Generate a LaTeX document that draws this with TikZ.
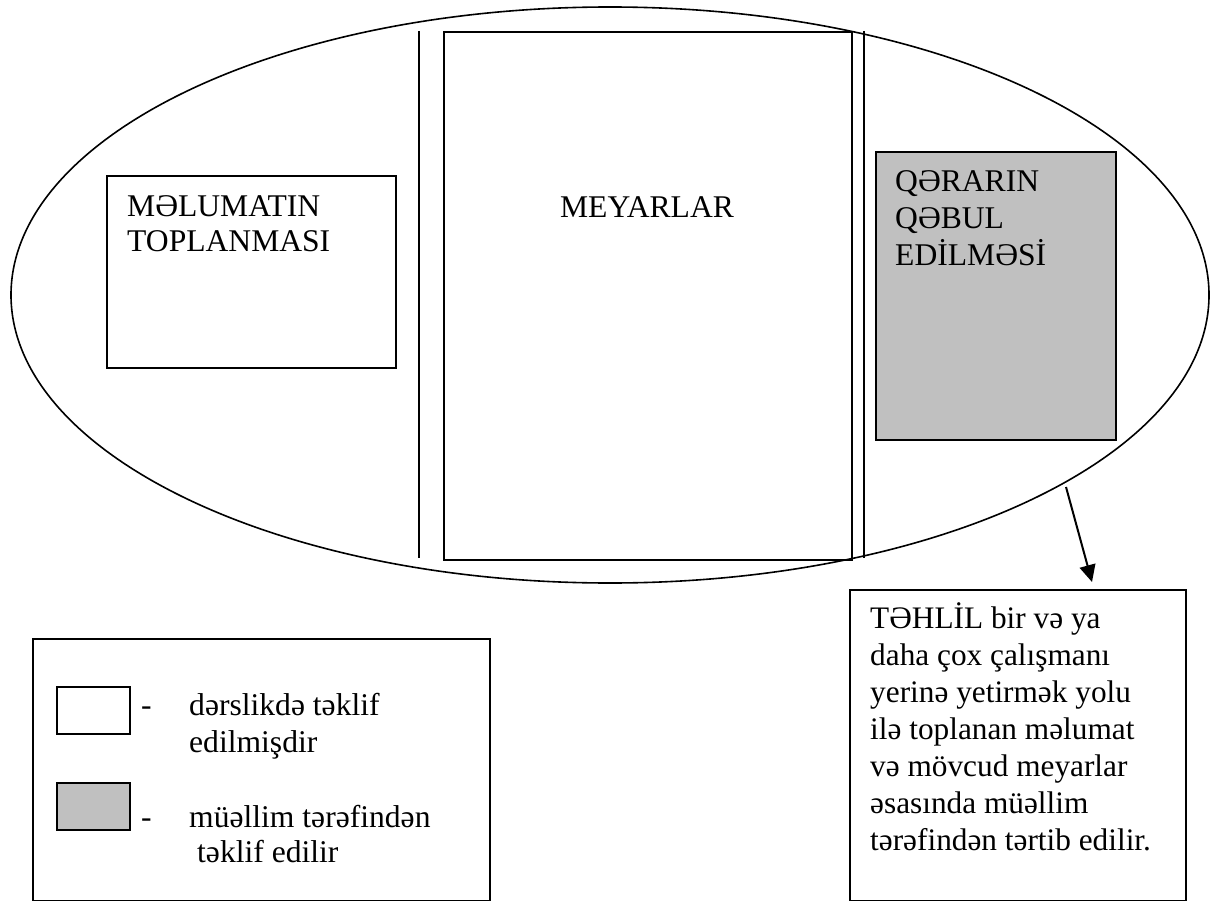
\documentclass[tikz,border=0pt]{standalone}
\usepackage{fontspec}
\setmainfont{Liberation Serif}
\usetikzlibrary{arrows.meta}
\definecolor{boxgray}{HTML}{C0C0C0}
% multi-line text whose baseline is the first line
\newcommand{\stack}[1]{\begin{tabular}[t]{@{}l@{}}#1\end{tabular}}
\begin{document}
\begin{tikzpicture}[x=1pt,y=-1pt,
  frame/.style={draw, line width=2pt, inner sep=0pt, anchor=north west},
  txt/.style={inner sep=0pt, anchor=base west, font=\fontsize{31.6}{36.5}\selectfont},
  rule/.style={line width=2pt}]
\useasboundingbox (0,0) rectangle (1214,901);

% outer ellipse
\draw[line width=1.6pt] (610,295) ellipse [x radius=599, y radius=288];

% data collection box
\node (info) [frame, minimum width=289pt, minimum height=192pt] at (106,175) {};
\node (infotxt) [txt, font=\fontsize{31.6}{35}\selectfont] at (127,217) {\stack{MƏLUMATIN\\TOPLANMASI}};

% criteria column with side rules
\coordinate (lt) at (419,31);
\coordinate (lb) at (419,558);
\coordinate (rt) at (864,31);
\coordinate (rb) at (864,558);
\draw[rule] (lt) -- (lb);
\draw[rule] (rt) -- (rb);
\node (crit) [frame, minimum width=408pt, minimum height=528pt] at (443,31) {};
\node (crittxt) [txt, anchor=base] at (647,218) {MEYARLAR};

% decision box
\node (dec) [frame, fill=boxgray, minimum width=240pt, minimum height=288pt] at (875,151) {};
\node (dectxt) [txt] at (895,192) {\stack{QƏRARIN\\QƏBUL\\EDİLMƏSİ}};

% analysis box and arrow
\node (anl) [frame, minimum width=336pt, minimum height=311pt] at (849,589) {};
\node (anltxt) [txt, font=\fontsize{31.3}{37}\selectfont] at (870,628)
  {\stack{TƏHLİL bir və ya\\daha çox çalışmanı\\yerinə yetirmək yolu\\ilə toplanan məlumat\\və mövcud meyarlar\\əsasında müəllim\\tərəfindən tərtib edilir.}};
\coordinate (arrfrom) at (1066,487);
\coordinate (arrto) at (1092,582);
\draw[line width=2pt, -{Triangle[length=17pt,width=16pt]}] (arrfrom) -- (arrto);

% legend
\node (leg) [frame, minimum width=457pt, minimum height=262pt] at (32,638) {};
\node (legw) [frame, line width=1.6pt, minimum width=73pt, minimum height=47pt] at (56,686) {};
\node (legg) [frame, line width=1.6pt, fill=boxgray, minimum width=73pt, minimum height=47pt] at (56,782) {};
\node (dash1) [txt] at (141,715) {-};
\node (dash2) [txt] at (141,827) {-};
\node (legwtxt) [txt, font=\fontsize{31.6}{37}\selectfont] at (189,715) {\stack{dərslikdə təklif\\edilmişdir}};
\node (leggtxt) [txt, font=\fontsize{31.6}{35}\selectfont] at (189,827) {\stack{müəllim tərəfindən\\\hspace*{8pt}təklif edilir}};
\end{tikzpicture}
\end{document}
